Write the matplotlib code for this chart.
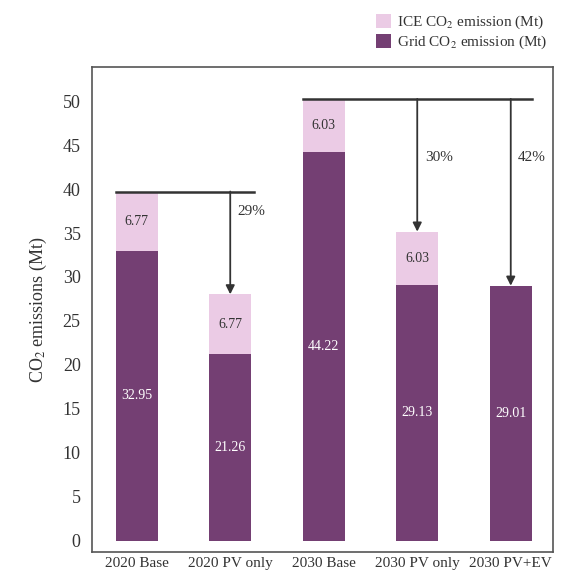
import matplotlib
matplotlib.use("Agg")
from matplotlib import pyplot as plt

plt.rcParams['font.family'] = ['Liberation Serif', 'DejaVu Serif']
plt.rcParams['mathtext.fontset'] = 'stix'

scenarios = ["2020 Base", "2020 PV only", "2030 Base", "2030 PV only", "2030 PV+EV"]
grid = [32.95, 21.26, 44.22, 29.13, 29.01]
ice = [6.77, 6.77, 6.03, 6.03, 0.0]
ice_labels = ["6.77", "6.77", "6.03", "6.03", ""]

# reduction arrows: (base index, target index, label, label height)
reductions = [(0, 1, "29%", 37.4), (2, 3, "30%", 43.6), (2, 4, "42%", 43.6)]
bracket_ends = {0: 1.25, 2: 4.23}

dark = '#743f73'
light = '#ebcbe5'
ink = '#333333'

fig, ax = plt.subplots(figsize=(5.67, 5.76), dpi=100)
fig.subplots_adjust(left=0.162, right=0.975, top=0.884, bottom=0.042)

x = list(range(len(scenarios)))
w = 0.45
ax.bar(x, grid, w, color=dark, label='Grid CO$_2$ emission (Mt)', zorder=2)
ax.bar(x, ice, w, bottom=grid, color=light, label='ICE CO$_2$ emission (Mt)', zorder=2)

for i in x:
    ax.text(i, grid[i] / 2, f"{grid[i]:.2f}", ha='center', va='center',
            color='white', fontsize=10)
    if ice[i] > 0:
        ax.text(i, grid[i] + ice[i] / 2, ice_labels[i], ha='center', va='center',
                color=ink, fontsize=10)

totals = [g + e for g, e in zip(grid, ice)]
for b, end in bracket_ends.items():
    ax.plot([b - w / 2, end], [totals[b], totals[b]], color=ink, lw=1.8, zorder=3)

for b, t, lab, ly in reductions:
    ax.annotate('', xy=(t, totals[t]), xytext=(t, totals[b]),
                arrowprops=dict(arrowstyle='-|>', color=ink, lw=1.3,
                                shrinkA=0, shrinkB=0, mutation_scale=13), zorder=3)
    ax.text(t + 0.08, ly, lab, ha='left', va='center', fontsize=11, color=ink)

ax.set_xlim(-0.48, 4.45)
ax.set_ylim(-1.25, 53.9)
ax.set_yticks(range(0, 51, 5))
ax.set_xticks(x)
ax.set_xticklabels(scenarios, fontsize=11, color=ink)
ax.tick_params(axis='y', labelsize=13, length=0, pad=8, labelcolor=ink)
ax.tick_params(axis='x', length=0, pad=4)
ax.set_ylabel('CO$_2$ emissions (Mt)', fontsize=13, labelpad=10, color=ink)
for s in ax.spines.values():
    s.set_color('#555555')
    s.set_linewidth(1.2)

handles, labels = ax.get_legend_handles_labels()
fig.legend(handles[::-1], labels[::-1], loc='upper right', bbox_to_anchor=(0.99, 1.0),
           frameon=False, fontsize=11, handlelength=1.0, handleheight=1.0,
           handletextpad=0.4, labelspacing=0.2, labelcolor=ink)

fig.savefig('out.png', dpi=100)
